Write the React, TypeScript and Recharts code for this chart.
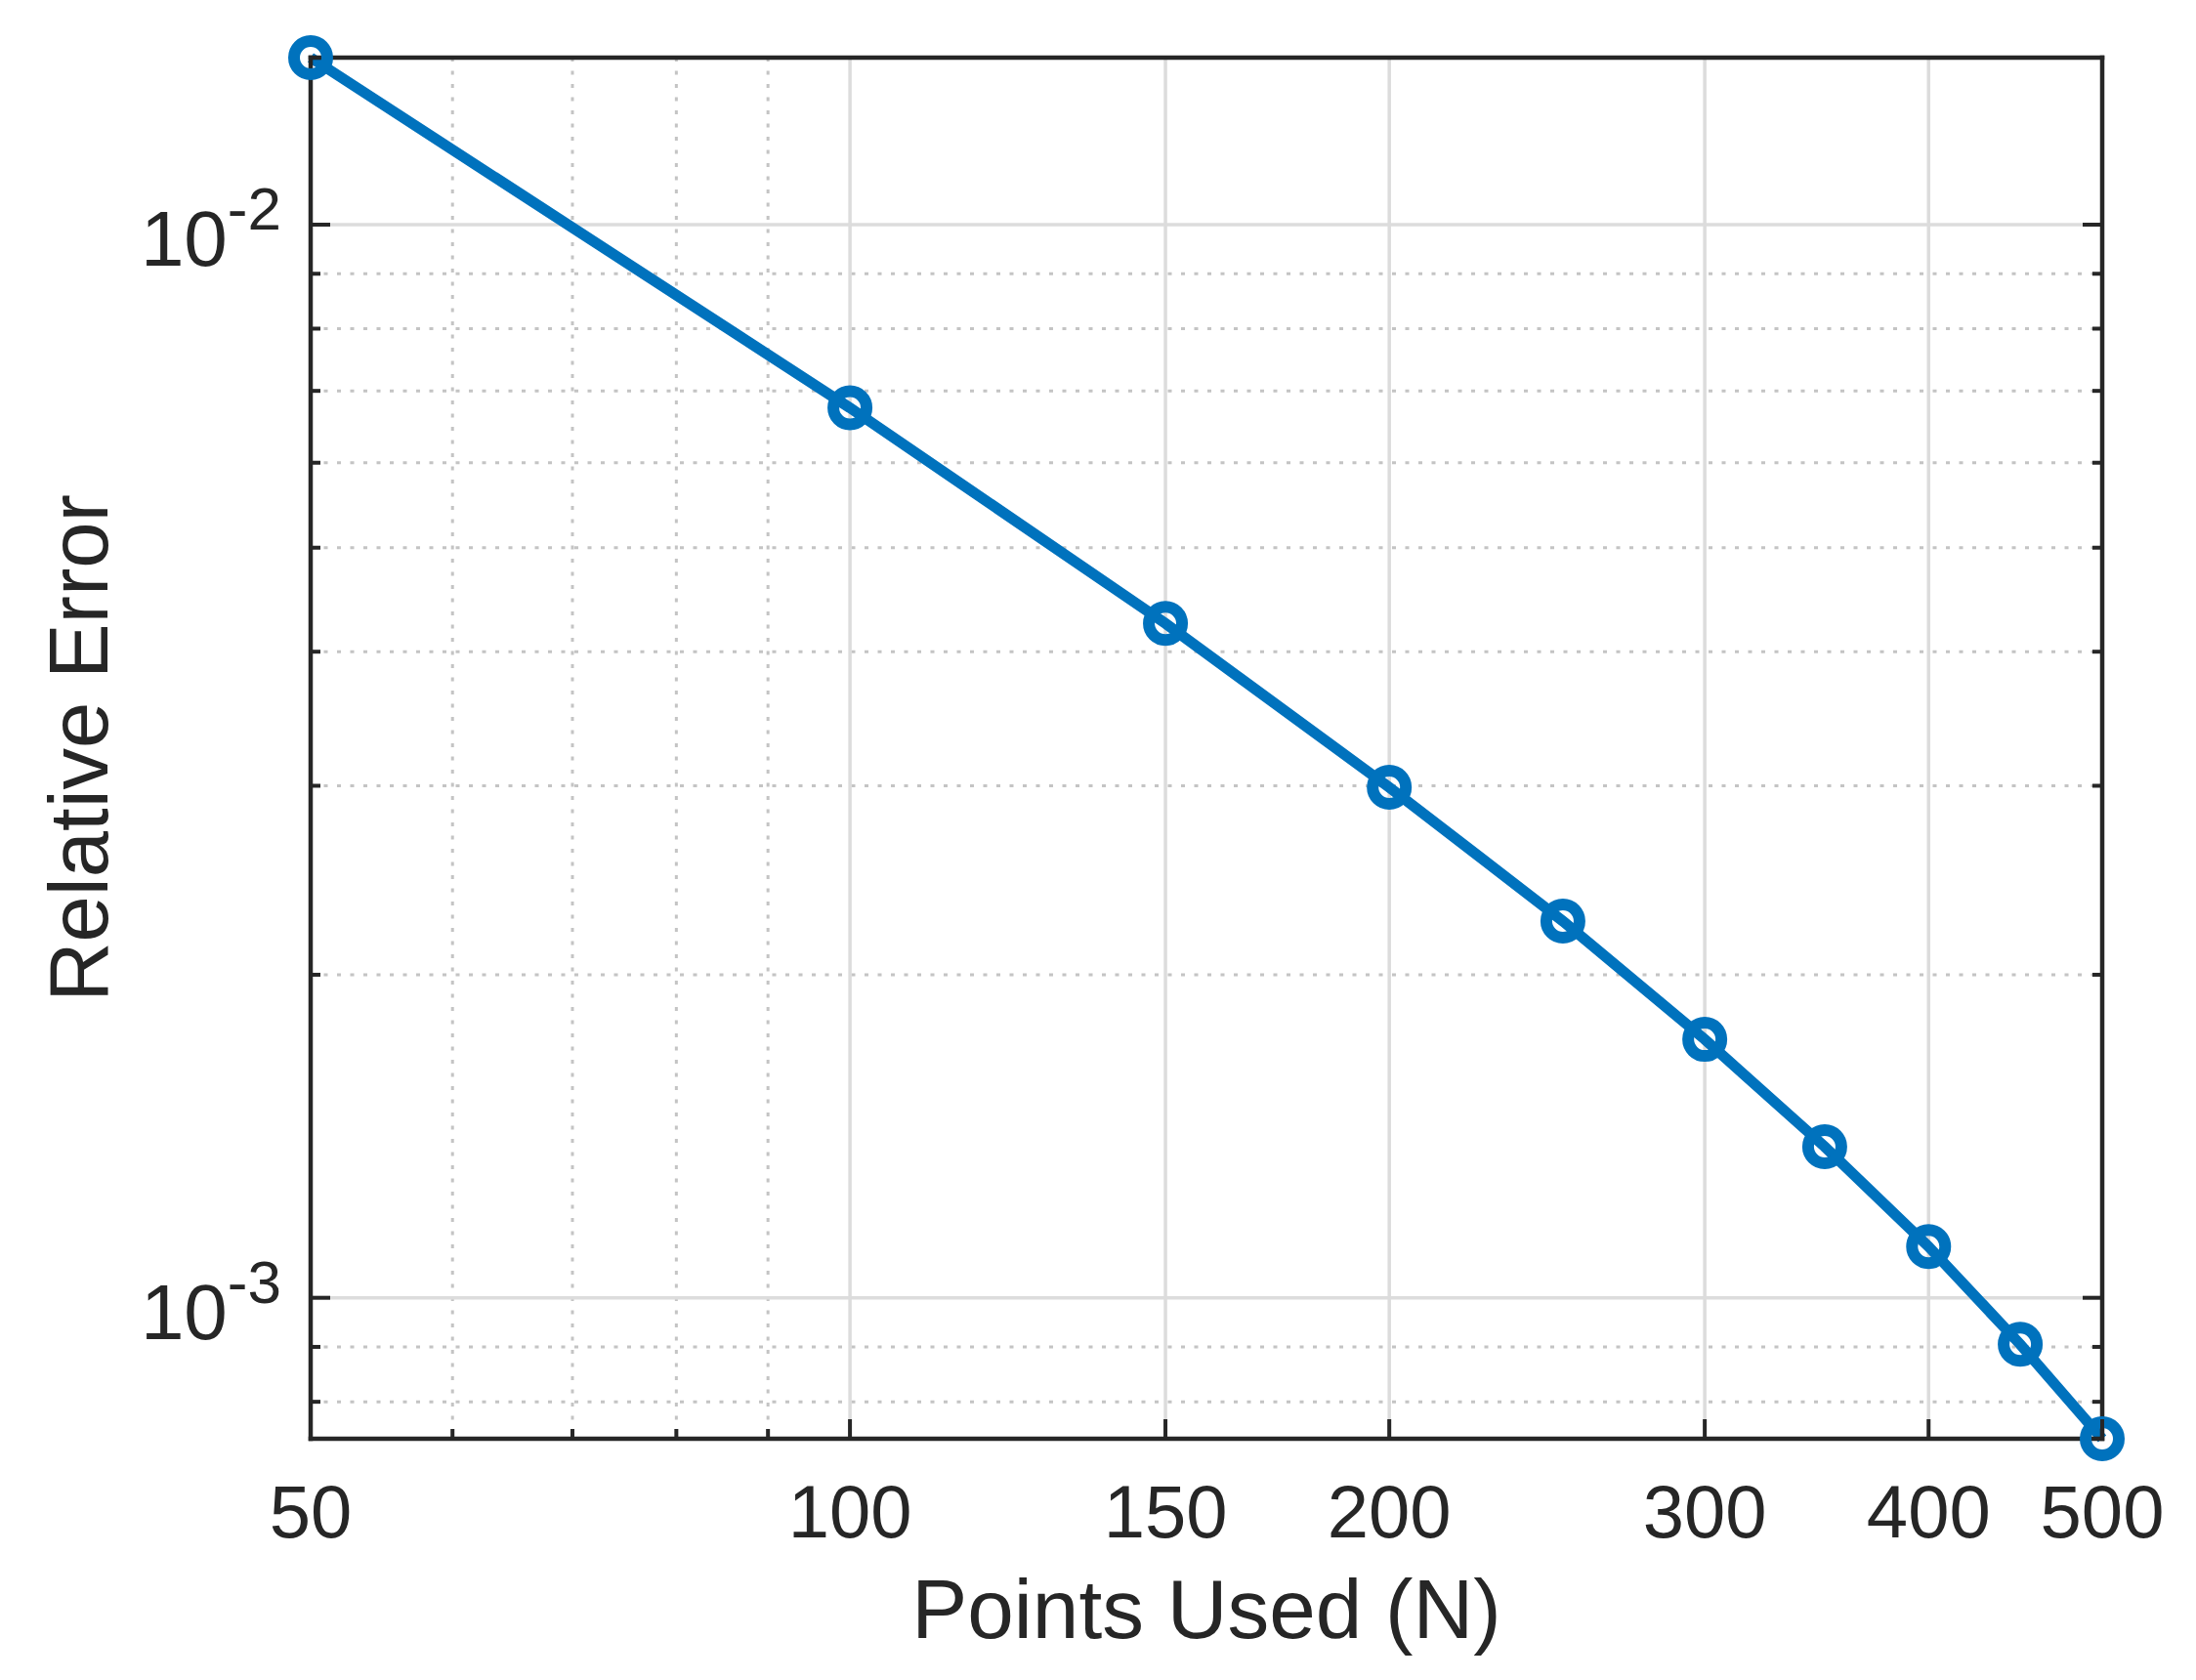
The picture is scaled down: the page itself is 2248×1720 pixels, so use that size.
import React from 'react';
import { LineChart, Line, XAxis, YAxis, CartesianGrid } from 'recharts';

const pointsUsed = [50, 100, 150, 200, 250, 300, 350, 400, 450, 500];
const relativeError = [0.01431, 0.00675, 0.00425, 0.00299, 0.002244, 0.001741, 0.001383, 0.001116, 0.000905, 0.000739];

const xMajorTicks = [50, 100, 150, 200, 300, 400, 500];
const xMinorTicks = [60, 70, 80, 90];
const yMajorTicks = [0.001, 0.01];
const yMajorExponents = ['-3', '-2'];
const yMinorTicks = [0.0008, 0.0009, 0.002, 0.003, 0.004, 0.005, 0.006, 0.007, 0.008, 0.009];

const data = pointsUsed.map((n, i) => ({ n, err: relativeError[i] }));
const xDomain = [Math.min(...pointsUsed), Math.max(...pointsUsed)];
const yDomain = [Math.min(...relativeError), Math.max(...relativeError)];

const FONT = '"Liberation Sans", Arial, Helvetica, sans-serif';
const INK = '#262626';
const BLUE = '#0072BD';
const TICK_W = 4;

const tickLen = (major: boolean) => (major ? 20 : 10);

function BottomTick(props: any) {
  const { x, y, payload } = props;
  const major = xMajorTicks.includes(payload.value);
  return (
    <g>
      <line x1={x} y1={y} x2={x} y2={y - tickLen(major)} stroke={INK} strokeWidth={TICK_W} />
      {major && (
        <text x={x} y={y + 101} textAnchor="middle" fontSize={76} fontFamily={FONT} fill={INK}>
          {payload.value}
        </text>
      )}
    </g>
  );
}

function TopTick(props: any) {
  const { x, y, payload } = props;
  const major = xMajorTicks.includes(payload.value);
  return <line x1={x} y1={y} x2={x} y2={y + tickLen(major)} stroke={INK} strokeWidth={TICK_W} />;
}

function LeftTick(props: any) {
  const { x, y, payload } = props;
  const idx = yMajorTicks.indexOf(payload.value);
  const major = idx >= 0;
  return (
    <g>
      <line x1={x} y1={y} x2={x + tickLen(major)} y2={y} stroke={INK} strokeWidth={TICK_W} />
      {major && (
        <text x={x - 30} y={y + 42} textAnchor="end" fontFamily={FONT} fill={INK}>
          <tspan fontSize={80}>10</tspan>
          <tspan fontSize={62} dy={-37}>{yMajorExponents[idx]}</tspan>
        </text>
      )}
    </g>
  );
}

function RightTick(props: any) {
  const { x, y, payload } = props;
  const major = yMajorTicks.includes(payload.value);
  return <line x1={x} y1={y} x2={x - tickLen(major)} y2={y} stroke={INK} strokeWidth={TICK_W} />;
}

const axisLine = { stroke: INK, strokeWidth: 4.5, strokeLinecap: 'square' as const };

export default function App() {
  return (
    <div style={{ position: 'absolute', left: 0, top: 0, width: 2248, height: 1720, background: '#fff' }}>
      <LineChart width={2248} height={1720} data={data} margin={{ top: 0, right: 0, bottom: 0, left: 0 }}>
        <CartesianGrid
          horizontalValues={yMinorTicks}
          verticalValues={xMinorTicks}
          stroke="#c4c4c4"
          strokeWidth={3}
          strokeDasharray="4 9.5"
        />
        <CartesianGrid
          horizontalValues={yMajorTicks}
          verticalValues={xMajorTicks}
          stroke="#dcdcdc"
          strokeWidth={3.5}
        />
        <XAxis
          dataKey="n"
          type="number"
          scale="log"
          domain={xDomain}
          ticks={[...xMajorTicks, ...xMinorTicks].sort((a, b) => a - b)}
          interval={0}
          height={247}
          tickSize={0}
          tickMargin={0}
          tickLine={false}
          axisLine={axisLine}
          tick={<BottomTick />}
          label={{
            content: (p: any) => (
              <text
                x={p.viewBox.x + p.viewBox.width / 2}
                y={p.viewBox.y + 204}
                textAnchor="middle"
                fontSize={85.5}
                fontFamily={FONT}
                fill={INK}
              >
                Points Used (N)
              </text>
            ),
          }}
        />
        <XAxis
          xAxisId="top"
          orientation="top"
          type="number"
          scale="log"
          domain={xDomain}
          allowDataOverflow
          ticks={[...xMajorTicks, ...xMinorTicks].sort((a, b) => a - b)}
          interval={0}
          height={59}
          tickSize={0}
          tickMargin={0}
          tickLine={false}
          axisLine={axisLine}
          tick={<TopTick />}
        />
        <YAxis
          dataKey="err"
          type="number"
          scale="log"
          domain={yDomain}
          ticks={[...yMinorTicks, ...yMajorTicks].sort((a, b) => a - b)}
          interval={0}
          width={318}
          tickSize={0}
          tickMargin={0}
          tickLine={false}
          axisLine={axisLine}
          tick={<LeftTick />}
          label={{
            content: (p: any) => {
              const cy = p.viewBox.y + p.viewBox.height / 2;
              return (
                <text
                  x={110}
                  y={cy}
                  transform={`rotate(-90, 110, ${cy})`}
                  textAnchor="middle"
                  fontSize={85}
                  fontFamily={FONT}
                  fill={INK}
                >
                  Relative Error
                </text>
              );
            },
          }}
        />
        <YAxis
          yAxisId="right"
          orientation="right"
          type="number"
          scale="log"
          domain={yDomain}
          allowDataOverflow
          ticks={[...yMinorTicks, ...yMajorTicks].sort((a, b) => a - b)}
          interval={0}
          width={96}
          tickSize={0}
          tickMargin={0}
          tickLine={false}
          axisLine={axisLine}
          tick={<RightTick />}
        />
        <Line
          type="linear"
          dataKey="err"
          stroke={BLUE}
          strokeWidth={11}
          dot={{ r: 17, fill: 'none', stroke: BLUE, strokeWidth: 12 }}
          activeDot={false}
          isAnimationActive={false}
        />
      </LineChart>
    </div>
  );
}
